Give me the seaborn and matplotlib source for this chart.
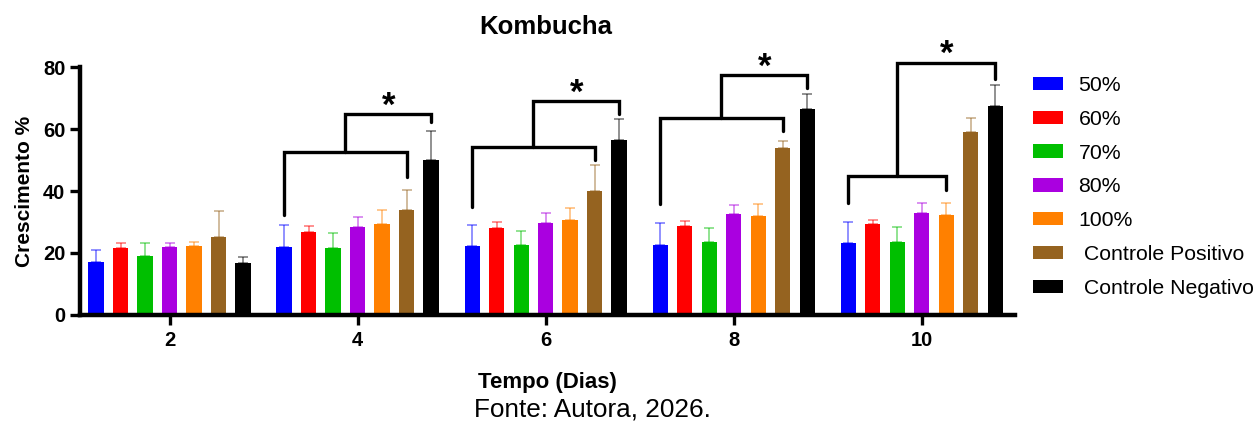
import numpy as np
import pandas as pd
import seaborn as sns
import matplotlib
matplotlib.use('Agg')
import matplotlib.pyplot as plt

sns.set_theme(style='ticks')
plt.rcParams['font.family'] = ['Liberation Sans', 'DejaVu Sans']
plt.rcParams['text.color'] = 'black'
plt.rcParams['axes.labelcolor'] = 'black'

dias = ['2', '4', '6', '8', '10']
grupos = ['50%', '60%', '70%', '80%', '100%', 'Controle Positivo', 'Controle Negativo']
legend_labels = ['50%', '60%', '70%', '80%', '100%', ' Controle Positivo', ' Controle Negativo']
cores = ['#0000FF', '#FF0000', '#00BF00', '#AA00E0', '#FF8000', '#956320', '#000000']

# media por grupo (dias 2, 4, 6, 8, 10)
media_50 = [17.1, 21.9, 22.3, 22.7, 23.1]
media_60 = [21.5, 26.9, 28.2, 28.6, 29.4]
media_70 = [19.1, 21.6, 22.6, 23.5, 23.6]
media_80 = [21.8, 28.4, 29.7, 32.7, 32.8]
media_100 = [22.4, 29.5, 30.7, 31.9, 32.3]
media_cp = [25.1, 34.0, 39.9, 54.0, 59.1]
media_cn = [16.8, 49.9, 56.5, 66.3, 67.3]

# desvio (so a parte de cima)
dp_50 = [4.0, 7.0, 6.8, 7.0, 7.0]
dp_60 = [1.8, 1.8, 1.8, 1.8, 1.2]
dp_70 = [4.1, 5.0, 4.5, 4.6, 4.7]
dp_80 = [1.5, 3.1, 3.3, 2.9, 3.2]
dp_100 = [1.2, 4.4, 3.8, 4.0, 3.7]
dp_cp = [8.4, 6.4, 8.5, 2.2, 4.4]
dp_cn = [1.8, 9.6, 6.6, 5.1, 6.9]

medias = [media_50, media_60, media_70, media_80, media_100, media_cp, media_cn]
desvios = [dp_50, dp_60, dp_70, dp_80, dp_100, dp_cp, dp_cn]

# colchetes de significancia (dias 4, 6, 8, 10)
sig_dia = [1, 2, 3, 4]
sig_fim = [5, 5, 5, 4]
sig_baixo = [52.5, 54.3, 63.5, 44.8]
sig_alto = [64.8, 68.9, 77.4, 81.4]
sig_perna_esq = [32.3, 34.9, 35.8, 36.1]
sig_perna_dir = [44.4, 50.0, 59.5, 40.3]
sig_perna_cn = [62.1, 64.8, 73.1, 76.1]

rows = []
for g, vals in zip(grupos, medias):
    for d, v in zip(dias, vals):
        rows.append({'Dia': d, 'Grupo': g, 'Crescimento': v})
df = pd.DataFrame(rows)

fig = plt.figure(figsize=(12.58, 4.21), dpi=100)
ax = fig.add_axes([80 / 1258, 1 - 315 / 421, 935 / 1258, 248 / 421])

sns.barplot(data=df, x='Dia', y='Crescimento', hue='Grupo', order=dias,
            hue_order=grupos, palette=dict(zip(grupos, cores)), errorbar=None,
            width=0.912, gap=0.37, linewidth=0, saturation=1, ax=ax)
barras = list(ax.containers)

# barras de erro
for i, cont in enumerate(barras):
    xs = [b.get_x() + b.get_width() / 2 for b in cont]
    hs = [b.get_height() for b in cont]
    ax.errorbar(xs, hs, yerr=[np.zeros(len(xs)), desvios[i]], fmt='none',
                ecolor=cores[i], alpha=0.55, elinewidth=1.1, capsize=3.6,
                capthick=1.1, zorder=3)

# colchetes
def centro(gi, di):
    b = barras[gi][di]
    return b.get_x() + b.get_width() / 2

for k, d in enumerate(sig_dia):
    xl = centro(0, d)
    xr = centro(sig_fim[k], d)
    xc = centro(6, d)
    xm = (xl + xr) / 2
    ax.plot([xl, xl, xr, xr], [sig_perna_esq[k], sig_baixo[k], sig_baixo[k], sig_perna_dir[k]],
            color='black', lw=2.4, clip_on=False, solid_joinstyle='miter', zorder=4)
    ax.plot([xm, xm, xc, xc], [sig_baixo[k], sig_alto[k], sig_alto[k], sig_perna_cn[k]],
            color='black', lw=2.4, clip_on=False, solid_joinstyle='miter', zorder=4)
    ax.annotate('*', xy=((xm + xc) / 2, sig_alto[k]), xytext=(0, -1),
                textcoords='offset points', ha='center', va='baseline',
                fontsize=25, fontweight='bold', annotation_clip=False)

ax.set_ylim(0, 80)
ax.set_xlim(-0.477, 4.496)
ax.set_yticks([0, 20, 40, 60, 80])
ax.set_xlabel('')
ax.set_ylabel('')
sns.despine(ax=ax)
for s in ['left', 'bottom']:
    ax.spines[s].set_linewidth(3.2)
    ax.spines[s].set_color('black')
ax.tick_params(axis='both', width=2.4, length=7.5, color='black',
               labelsize=14.5, labelcolor='black')
ax.tick_params(axis='y', pad=3)
ax.tick_params(axis='x', pad=4)
plt.setp(ax.get_xticklabels() + ax.get_yticklabels(), fontweight='bold')

handles, _ = ax.get_legend_handles_labels()
ax.legend(handles, legend_labels, loc='upper left', bbox_to_anchor=(1033 / 1258, 0.820),
          bbox_transform=fig.transFigure, frameon=False, fontsize=15.3,
          borderpad=0, borderaxespad=0, handlelength=1.39, handleheight=0.58,
          handletextpad=0.75, labelspacing=0.70)

fig.text(546 / 1258, 1 - 34.3 / 421, 'Kombucha', ha='center', va='baseline',
         fontsize=18.5, fontweight='bold')
fig.text(30 / 1258, 1 - 191 / 421, 'Crescimento %', rotation=90, rotation_mode='anchor',
         ha='center', va='baseline', fontsize=15, fontweight='bold')
fig.text(547 / 1258, 1 - 387.7 / 421, 'Tempo (Dias)', ha='center', va='baseline',
         fontsize=16, fontweight='bold')
fig.text(592 / 1258, 1 - 416.7 / 421, 'Fonte: Autora, 2026.', ha='center', va='baseline',
         fontsize=18.8)

fig.savefig('out.png', dpi=100)
